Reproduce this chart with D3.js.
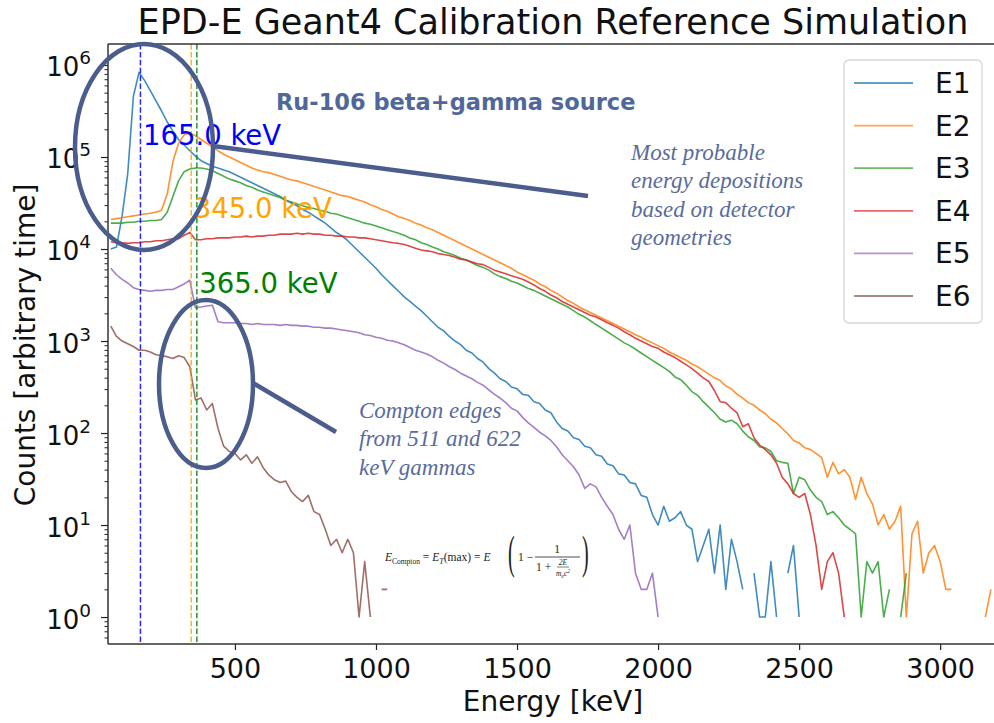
<!DOCTYPE html>
<html>
<head>
<meta charset="utf-8">
<script src="https://cdn.jsdelivr.net/npm/d3@7"></script>
<style>
  body { margin: 0; background: #fff; }
  svg { display: block; }
</style>
</head>
<body>
<script>
// bin centres [keV]
const energy = [
  60,80,100,120,140,160,180,200,220,240,
  260,280,300,320,340,360,380,400,420,440,
  460,480,500,520,540,560,580,600,620,640,
  660,680,700,720,740,760,780,800,820,840,
  860,880,900,920,940,960,980,1000,1020,1040,
  1060,1080,1100,1120,1140,1160,1180,1200,1220,1240,
  1260,1280,1300,1320,1340,1360,1380,1400,1420,1440,
  1460,1480,1500,1520,1540,1560,1580,1600,1620,1640,
  1660,1680,1700,1720,1740,1760,1780,1800,1820,1840,
  1860,1880,1900,1920,1940,1960,1980,2000,2020,2040,
  2060,2080,2100,2120,2140,2160,2180,2200,2220,2240,
  2260,2280,2300,2320,2340,2360,2380,2400,2420,2440,
  2460,2480,2500,2520,2540,2560,2580,2600,2620,2640,
  2660,2680,2700,2720,2740,2760,2780,2800,2820,2840,
  2860,2880,2900,2920,2940,2960,2980,3000,3020,3040,
  3060,3080,3100,3120,3140,3160,3180
];

// counts per bin, null = empty bin (gap on log axis)
const e1 = [
  10000,10500,22900,66100,457000,832000,676000,525000,407000,316000,
  240000,191000,155000,135000,117000,102000,91200,85100,79400,75900,
  72400,69200,64600,60300,56200,52500,49000,45700,42700,39800,
  37200,33900,31600,29500,26900,25100,22900,20900,19100,17000,
  15100,13800,12300,10700,9330,8130,7080,6170,5250,4570,
  3980,3470,3020,2690,2400,2140,1860,1620,1410,1290,
  1120,1000,912,794,741,646,589,501,447,389,
  363,316,302,263,257,219,209,178,166,132,
  112,105,89,85,72,69,58,56,46,44,
  36,35,29,28,21,20,13,10,16,11,
  12,14,10,9,4,6,9,3,10,2,
  7,4,2,null,3,1,1,4,1,null,
  3,6,1
];
const e2 = [
  20900,21400,21900,22400,22900,23400,24000,24500,25100,26300,
  39800,89100,141000,174000,182000,170000,155000,141000,129000,117000,
  107000,100000,93300,87100,81300,75900,72400,69200,67600,64600,
  61700,58900,56200,55000,52500,50100,47900,45700,43700,41700,
  39800,38000,37200,35500,33900,32400,30200,28800,26900,25700,
  24000,22400,21400,20400,19100,18200,17000,16200,15100,14100,
  13200,12300,11500,10700,10000,9330,8710,8130,7590,7080,
  6610,6170,5620,5250,4900,4570,4170,3890,3550,3310,
  3020,2750,2570,2340,2190,2040,1910,1780,1660,1550,
  1450,1350,1260,1170,1100,1020,955,891,832,759,
  708,661,617,562,525,479,437,398,372,324,
  302,263,240,214,200,178,162,141,129,112,
  98,83,78,69,66,60,54,33,48,36,
  40,33,19,33,22,17,10,13,9,11,
  16,1,8,11,3,5,6,4,2,2,
  null,null,null,null,null,1,2
];
const e3 = [
  19100,19100,19100,19500,19500,20000,20000,20400,20400,20900,
  25100,37200,55000,69200,74100,75900,75900,74100,70800,66100,
  61700,57500,55000,52500,49000,46800,43700,41700,39800,38000,
  36300,33900,32400,30900,29500,28200,27500,26300,25700,24500,
  24000,22900,21900,20900,20000,19100,18600,17800,17000,16200,
  15500,14800,14100,13200,12600,11700,11200,10500,10000,9330,
  8910,8510,7940,7590,7080,6610,6310,5890,5370,5010,
  4790,4470,4270,3980,3720,3550,3310,3090,2880,2690,
  2510,2340,2140,1950,1820,1660,1510,1380,1260,1150,
  1050,955,891,813,741,676,617,562,513,468,
  407,380,331,282,257,219,191,166,141,132,
  138,126,105,91,83,71,69,63,50,48,
  47,22,33,31,24,20,18,13,14,12,
  10,9,8,1,4,3,4,1,2,null,
  1,3
];
const e4 = [
  12000,11700,11700,11500,11700,11700,12000,12000,12300,12300,
  12600,12900,12900,14100,15100,12600,12600,12900,12900,13200,
  13200,13200,13500,13500,13800,13500,13800,13800,14100,14100,
  14500,14500,14500,14800,14500,14800,14500,14500,14100,14100,
  13800,13800,13500,13500,13200,13200,12900,12600,12300,12000,
  11700,11500,11200,10700,10200,9770,9550,9330,8910,8710,
  8510,8130,7760,7590,7240,6920,6760,6310,5890,5620,
  5370,5130,4900,4680,4370,4070,3720,3470,3160,2950,
  2690,2510,2340,2190,2040,1910,1820,1700,1580,1480,
  1380,1260,1170,1070,1000,933,871,832,759,708,
  661,603,550,501,447,398,363,288,219,214,
  186,166,117,126,89,74,66,58,47,33,
  28,22,20,22,13,6,2,4,5,3,
  1
];
const e5 = [
  6170,5250,4680,4270,3800,3630,3550,3470,3550,3550,
  3630,3630,3890,4170,4570,2290,2340,2400,2450,1620,
  1580,1580,1580,1550,1550,1510,1550,1510,1510,1510,
  1480,1510,1480,1480,1450,1450,1410,1410,1380,1380,
  1350,1320,1290,1260,1230,1170,1150,1100,1070,1020,
  1000,955,912,851,794,759,724,676,617,575,
  525,490,447,417,389,355,331,295,263,240,
  214,186,174,148,129,115,102,93,83,71,
  58,50,43,35,25,28,26,20,16,13,
  9,7,10,3,2,2,3,1
];
const e6 = [
  1450,1120,1000,933,871,794,794,759,708,692,
  676,646,692,661,525,229,240,178,209,112,
  72,63,60,51,58,47,55,42,35,31,
  29,30,23,20,18,21,14,13,9,6,
  7,5,7,5,1,4,1,null,2,2
];

const seriesNames = ['E1', 'E2', 'E3', 'E4', 'E5', 'E6'];
const seriesValues = [e1, e2, e3, e4, e5, e6];
const seriesColors = ['#1f77b4', '#ff7f0e', '#2ca02c', '#d62728', '#9467bd', '#8c564b'];

// most probable energy depositions
const peakEnergies = [165, 345, 365];
const peakColors = ['#0000ff', '#ffa500', '#008000'];

const xTicks = [500, 1000, 1500, 2000, 2500, 3000];
const yTickExponents = [0, 1, 2, 3, 4, 5, 6];

const width = 994, height = 723;
const plot = {left: 108, right: 998, top: 44, bottom: 644};
const font = 'DejaVu Sans';
const noteColor = '#4b5d8c';

const svg = d3.select('body').append('svg')
  .attr('width', width)
  .attr('height', height)
  .style('background', '#fff');

const x = d3.scaleLinear()
  .domain([50, 3205])
  .range([plot.left, plot.right]);

const y = d3.scaleLog()
  .domain([Math.pow(10, -0.293), Math.pow(10, 6.228)])
  .range([plot.bottom, plot.top]);

svg.append('clipPath').attr('id', 'clip')
  .append('rect')
  .attr('x', plot.left).attr('y', plot.top)
  .attr('width', plot.right - plot.left).attr('height', plot.bottom - plot.top);

// curves
const line = d3.line()
  .defined(d => d.v != null && d.v > 0)
  .x(d => x(d.e))
  .y(d => y(d.v));

const curves = svg.append('g').attr('clip-path', 'url(#clip)');
seriesValues.forEach(function(vals, i) {
  const pts = energy.map((e, j) => ({e: e, v: vals[j]}));
  curves.append('path')
    .datum(pts)
    .attr('d', line)
    .attr('fill', 'none')
    .attr('stroke', seriesColors[i])
    .attr('stroke-width', 1.6)
    .attr('stroke-opacity', 0.85)
    .attr('stroke-linejoin', 'round');
});

// dashed peak markers
curves.selectAll('line.peak')
  .data(peakEnergies)
  .join('line')
  .attr('class', 'peak')
  .attr('x1', d => x(d)).attr('x2', d => x(d))
  .attr('y1', plot.top).attr('y2', plot.bottom)
  .attr('stroke', (d, i) => peakColors[i])
  .attr('stroke-width', 1.5)
  .attr('stroke-opacity', 0.85)
  .attr('stroke-dasharray', '5.5,2.4');

// peak labels (baseline pixel rows as in the figure)
const peakLabelY = [145, 218, 293];
svg.selectAll('text.peaklab')
  .data(peakEnergies)
  .join('text')
  .attr('class', 'peaklab')
  .attr('x', d => x(d) + 2.5)
  .attr('y', (d, i) => peakLabelY[i])
  .attr('font-family', font)
  .attr('font-size', 27.5)
  .attr('fill', (d, i) => peakColors[i])
  .text(d => d.toFixed(1) + ' keV');

// AXES
const xAxis = d3.axisBottom(x).tickValues(xTicks).tickSize(6).tickPadding(9).tickFormat(d3.format('d'));
svg.append('g')
  .attr('transform', `translate(0,${plot.bottom})`)
  .call(xAxis)
  .call(g => g.select('.domain').remove())
  .attr('font-family', font)
  .attr('font-size', 27)
  .call(g => g.selectAll('line').attr('stroke', '#222').attr('stroke-width', 1.2))
  .call(g => g.selectAll('text').attr('fill', '#111'));

const minorTicks = [];
yTickExponents.concat([-1]).forEach(k => {
  for (let m = 2; m <= 9; m++) {
    const v = m * Math.pow(10, k);
    if (v > y.domain()[0] && v < y.domain()[1]) minorTicks.push(v);
  }
});
svg.append('g')
  .attr('transform', `translate(${plot.left},0)`)
  .call(d3.axisLeft(y).tickValues(minorTicks).tickSize(3.5).tickFormat(''))
  .call(g => g.select('.domain').remove())
  .call(g => g.selectAll('line').attr('stroke', '#222').attr('stroke-width', 1));

const yMajor = yTickExponents.map(k => Math.pow(10, k));
svg.append('g')
  .attr('transform', `translate(${plot.left},0)`)
  .call(d3.axisLeft(y).tickValues(yMajor).tickSize(7).tickPadding(10))
  .call(g => g.select('.domain').remove())
  .attr('font-family', font)
  .attr('font-size', 26)
  .call(g => g.selectAll('line').attr('stroke', '#222').attr('stroke-width', 1.2))
  .call(g => g.selectAll('text').each(function(d) {
    const t = d3.select(this);
    t.text(null).attr('dy', null).attr('y', 11).attr('fill', '#111');
    t.append('tspan').text('10');
    t.append('tspan').attr('dy', -12).attr('font-size', 18.5).text(Math.round(Math.log10(d)));
  }));

// spines
const spines = svg.append('g').attr('stroke', '#333').attr('stroke-width', 1.5);
spines.append('line').attr('x1', plot.left).attr('x2', plot.left).attr('y1', plot.top).attr('y2', plot.bottom);
spines.append('line').attr('x1', plot.left).attr('x2', plot.right).attr('y1', plot.bottom).attr('y2', plot.bottom);
spines.append('line').attr('x1', plot.left).attr('x2', plot.right).attr('y1', plot.top).attr('y2', plot.top);

// labels
svg.append('text')
  .attr('x', (plot.left + plot.right) / 2).attr('y', 34)
  .attr('text-anchor', 'middle')
  .attr('font-family', font).attr('font-size', 35).attr('fill', '#111')
  .text('EPD-E Geant4 Calibration Reference Simulation');

svg.append('text')
  .attr('x', (plot.left + plot.right) / 2).attr('y', 711)
  .attr('text-anchor', 'middle')
  .attr('font-family', font).attr('font-size', 28).attr('fill', '#111')
  .text('Energy [keV]');

svg.append('text')
  .attr('transform', 'translate(35,345) rotate(-90)')
  .attr('text-anchor', 'middle')
  .attr('font-family', font).attr('font-size', 28).attr('fill', '#111')
  .text('Counts [arbitrary time]');

// legend
const legend = svg.append('g');
legend.append('rect')
  .attr('x', 844).attr('y', 60).attr('width', 138).attr('height', 263)
  .attr('rx', 5)
  .attr('fill', '#fff').attr('stroke', '#d6d6d6').attr('stroke-width', 1.3);
seriesNames.forEach(function(name, i) {
  const ly = 83 + i * 42.6;
  legend.append('line')
    .attr('x1', 854).attr('x2', 913).attr('y1', ly).attr('y2', ly)
    .attr('stroke', seriesColors[i]).attr('stroke-width', 1.8).attr('stroke-opacity', 0.7);
  legend.append('text')
    .attr('x', 935).attr('y', ly + 10)
    .attr('font-family', font).attr('font-size', 28).attr('fill', '#111')
    .text(name);
});

// slide annotations
const notes = svg.append('g');
notes.append('text')
  .attr('x', 276).attr('y', 110)
  .attr('font-family', font).attr('font-weight', 'bold').attr('font-size', 22.5)
  .attr('fill', '#4f6899')
  .text('Ru-106 beta+gamma source');

const italicNote = function(lines, x0, y0) {
  const t = notes.append('text')
    .attr('font-family', 'Liberation Serif').attr('font-style', 'italic')
    .attr('font-size', 23).attr('fill', '#5a6b9e');
  lines.forEach(function(s, i) {
    t.append('tspan').attr('x', x0).attr('y', y0 + i * 28.3).text(s);
  });
};
italicNote(['Most probable', 'energy depositions', 'based on detector', 'geometries'], 631, 160);
italicNote(['Compton edges', 'from 511 and 622', 'keV gammas'], 359, 418);

notes.append('ellipse')
  .attr('cx', 144).attr('cy', 147).attr('rx', 69).attr('ry', 103)
  .attr('fill', 'none').attr('stroke', noteColor).attr('stroke-width', 4.5);
notes.append('line')
  .attr('x1', 213).attr('y1', 146).attr('x2', 588).attr('y2', 196)
  .attr('stroke', noteColor).attr('stroke-width', 4.5);
notes.append('ellipse')
  .attr('cx', 206).attr('cy', 384).attr('rx', 47).attr('ry', 84)
  .attr('fill', 'none').attr('stroke', noteColor).attr('stroke-width', 4.5);
notes.append('line')
  .attr('x1', 253).attr('y1', 383).attr('x2', 336).attr('y2', 432)
  .attr('stroke', noteColor).attr('stroke-width', 4.5);

// Compton edge formula
const fm = notes.append('g').attr('font-family', 'Liberation Serif').attr('fill', '#222');
const lhs = fm.append('text').attr('x', 385).attr('y', 561).attr('font-size', 11.5);
lhs.append('tspan').attr('font-style', 'italic').text('E');
lhs.append('tspan').attr('font-size', 7.5).attr('dy', 2.5).text('Compton');
lhs.append('tspan').attr('dy', -2.5).text(' = ');
lhs.append('tspan').attr('font-style', 'italic').text('E');
lhs.append('tspan').attr('font-style', 'italic').attr('font-size', 8).attr('dy', 2.5).text('T');
lhs.append('tspan').attr('dy', -2.5).text('(max) = ');
lhs.append('tspan').attr('font-style', 'italic').text('E');

// tall thin parentheses: a normal glyph stretched vertically
fm.append('text').attr('transform', 'translate(508,568) scale(1,2.3)')
  .attr('font-size', 20).text('(');
fm.append('text').attr('x', 518).attr('y', 561).attr('font-size', 11.5).text('1 −');
fm.append('line').attr('x1', 535).attr('x2', 580).attr('y1', 557).attr('y2', 557)
  .attr('stroke', '#222').attr('stroke-width', 0.8);
fm.append('text').attr('x', 557).attr('y', 553).attr('font-size', 11.5).attr('text-anchor', 'middle').text('1');
fm.append('text').attr('x', 536).attr('y', 571).attr('font-size', 11.5).text('1 +');
fm.append('line').attr('x1', 557).attr('x2', 569).attr('y1', 567).attr('y2', 567)
  .attr('stroke', '#222').attr('stroke-width', 0.6);
fm.append('text').attr('x', 563).attr('y', 565).attr('font-size', 7.5).attr('font-style', 'italic')
  .attr('text-anchor', 'middle').text('2E');
const den = fm.append('text').attr('x', 563).attr('y', 576).attr('font-size', 7.5)
  .attr('font-style', 'italic').attr('text-anchor', 'middle');
den.append('tspan').text('m');
den.append('tspan').attr('font-size', 5.5).attr('dy', 1.5).text('e');
den.append('tspan').attr('dy', -1.5).text('c');
den.append('tspan').attr('font-size', 5.5).attr('dy', -3).text('2');
fm.append('text').attr('transform', 'translate(582,568) scale(1,2.3)')
  .attr('font-size', 20).text(')');
</script>
</body>
</html>
